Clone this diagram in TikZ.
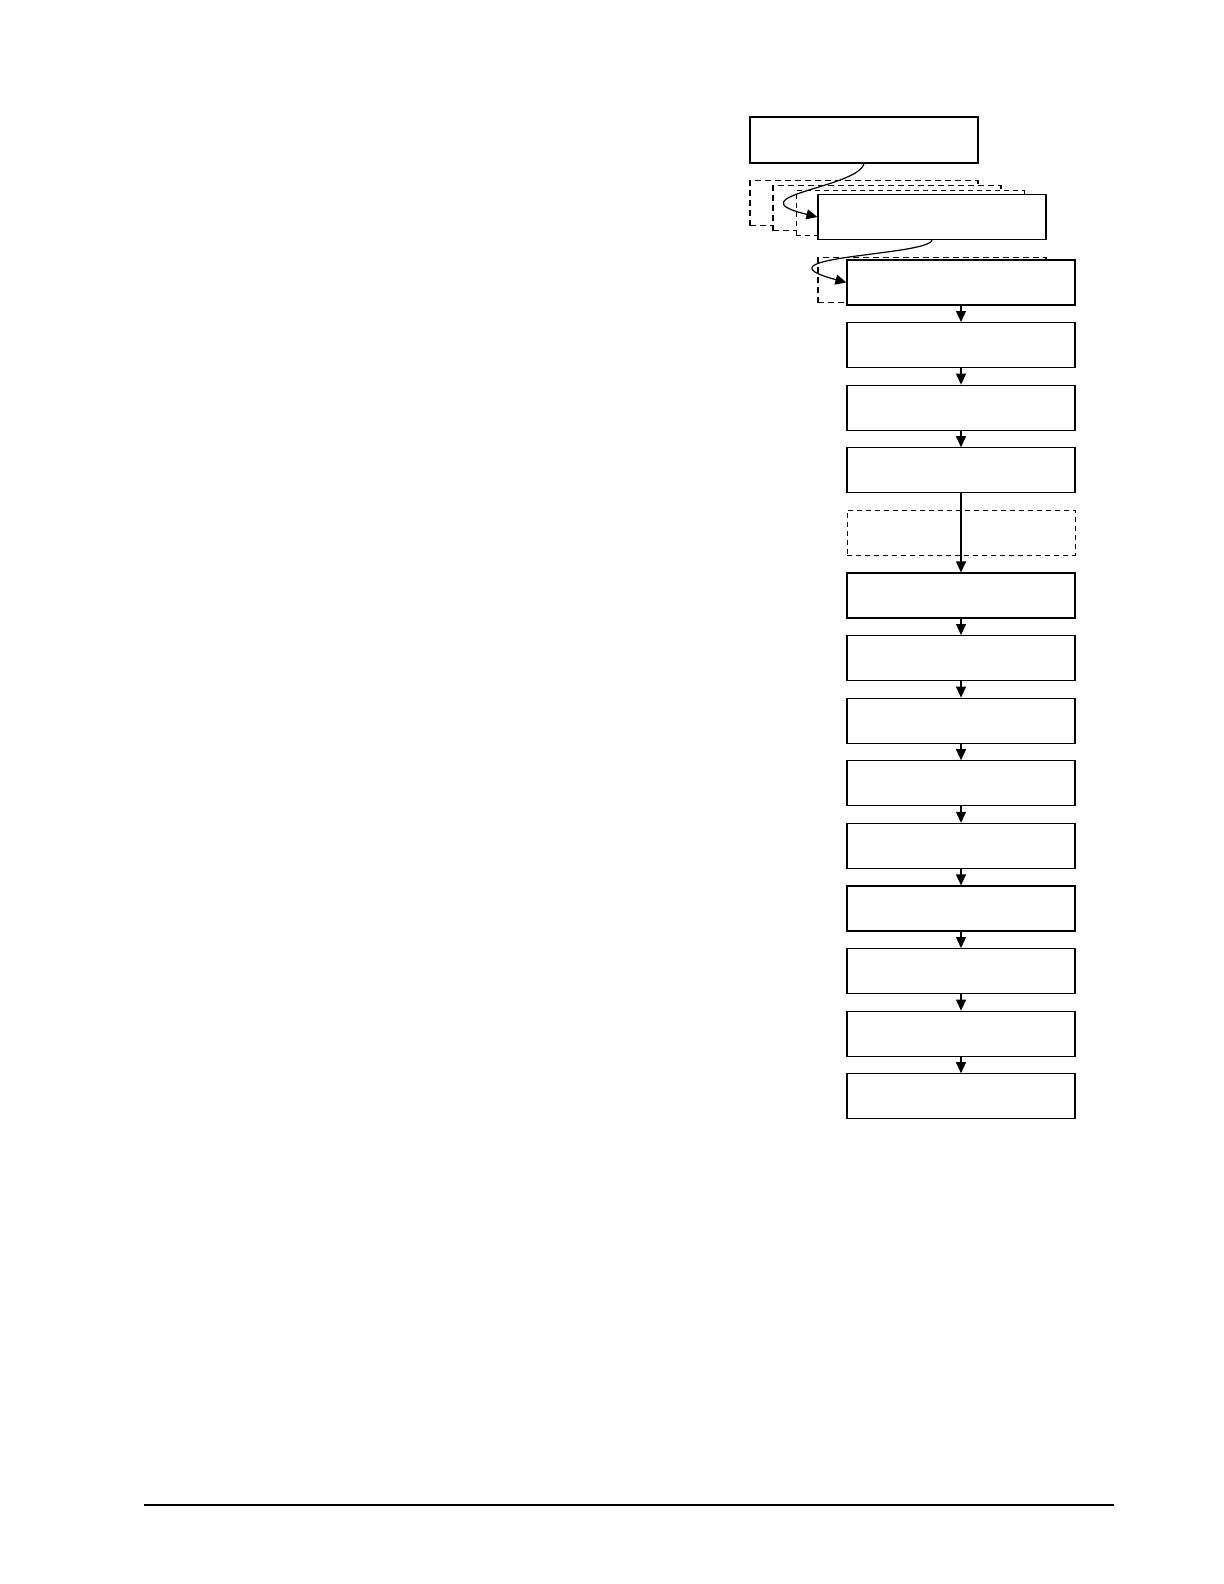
\documentclass[tikz,border=0pt]{standalone}
\usetikzlibrary{arrows.meta}
\tikzset{stepbox/.style={rectangle,draw,fill=white,line width=0.6pt,minimum width=114pt,minimum height=22.5pt,inner sep=0pt},
ghostbox/.style={stepbox,line width=0.8pt,dash pattern=on 3pt off 2pt},
faintbox/.style={stepbox,line width=0.5pt,dash pattern=on 2.5pt off 2pt},
flow/.style={-{Triangle[width=5pt,length=5.5pt]},line width=0.6pt}}

\begin{document}
\begin{tikzpicture}[x=0.5pt,y=-0.5pt]

\useasboundingbox (0,0) rectangle (1224,1584);

% nodes

\node [style = stepbox, minimum height=23pt] (top) at (864,140) {};

\node [style = ghostbox] (pickA) at (864,203) {};
\node [style = ghostbox] (pickB) at (887,208) {};
\node [style = faintbox] (pickC) at (910,213) {};
\node [style = stepbox] (pick) at (932,217) {};

\node [style = ghostbox] (ghost) at (932,280) {};

\node [style = stepbox] (s0) at (961,282.5) {};
\node [style = stepbox] (s1) at (961,345.1) {};
\node [style = stepbox] (s2) at (961,407.7) {};
\node [style = stepbox] (s3) at (961,470.3) {};
\node [style = faintbox] (s4) at (961,532.9) {};
\node [style = stepbox] (s5) at (961,595.5) {};
\node [style = stepbox] (s6) at (961,658.1) {};
\node [style = stepbox] (s7) at (961,720.7) {};
\node [style = stepbox] (s8) at (961,783.3) {};
\node [style = stepbox] (s9) at (961,845.9) {};
\node [style = stepbox] (s10) at (961,908.5) {};
\node [style = stepbox] (s11) at (961,971.1) {};
\node [style = stepbox] (s12) at (961,1033.7) {};
\node [style = stepbox] (s13) at (961,1096.3) {};

\coordinate (ruleL) at (144,1505);
\coordinate (ruleR) at (1114,1505);

%  edges
\draw [flow] (top.south) .. controls (858,188) and (732,196) .. (pick.west);
\draw [flow] (pick.south) .. controls (928,256) and (748,256) .. (s0.west);

\draw [flow] (s0) to (s1);
\draw [flow] (s1) to (s2);
\draw [flow] (s2) to (s3);
\draw [flow] (s3.south) to (s5.north);
\draw [flow] (s5) to (s6);
\draw [flow] (s6) to (s7);
\draw [flow] (s7) to (s8);
\draw [flow] (s8) to (s9);
\draw [flow] (s9) to (s10);
\draw [flow] (s10) to (s11);
\draw [flow] (s11) to (s12);
\draw [flow] (s12) to (s13);

\draw [line width=0.6pt] (ruleL) -- (ruleR);

\end{tikzpicture}
\end{document}
